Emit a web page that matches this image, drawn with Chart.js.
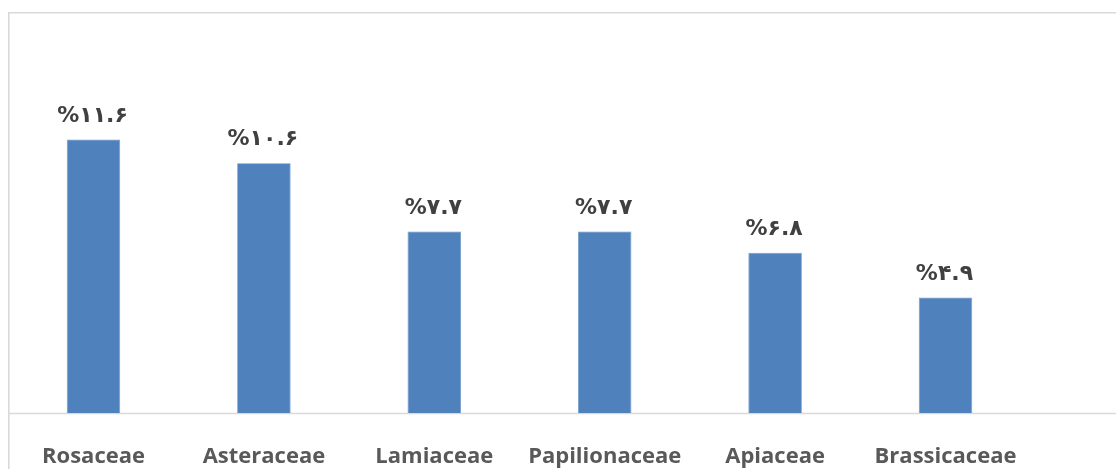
<!DOCTYPE html>
<html>
<head>
<meta charset="utf-8">
<script src="https://cdn.jsdelivr.net/npm/chart.js@4"></script>
<style>
  html, body { margin: 0; padding: 0; background: #ffffff; }
  #wrap { width: 1116px; height: 469px; position: relative; }
</style>
</head>
<body>
<div id="wrap"><canvas id="chart-families"></canvas></div>
<script>
const families = ["Rosaceae", "Asteraceae", "Lamiaceae", "Papilionaceae", "Apiaceae", "Brassicaceae"];
const shares = [11.6, 10.6, 7.7, 7.7, 6.8, 4.9];
const yMax = 14;

const faDigits = "۰۱۲۳۴۵۶۷۸۹";
function toPersian(v) {
  return "%" + String(v).replace(/[0-9]/g, d => faDigits[+d]);
}

// frame lines + baseline running out to the right edge
const framePlugin = {
  id: 'frame',
  beforeDraw(chart) {
    const ctx = chart.ctx;
    const area = chart.chartArea;
    ctx.save();
    ctx.strokeStyle = '#d9d9d9';
    ctx.lineWidth = 1.6;
    ctx.beginPath();
    ctx.moveTo(8.8, chart.height);
    ctx.lineTo(8.8, 12.8);
    ctx.lineTo(chart.width, 12.8);
    ctx.stroke();
    ctx.beginPath();
    ctx.moveTo(8.8, area.bottom + 0.5);
    ctx.lineTo(chart.width, area.bottom + 0.5);
    ctx.stroke();
    ctx.restore();
  }
};

// value labels above each bar
const valueLabels = {
  id: 'valueLabels',
  afterDatasetsDraw(chart) {
    const ctx = chart.ctx;
    const meta = chart.getDatasetMeta(0);
    ctx.save();
    ctx.font = 'bold 22px "DejaVu Sans", "Open Sans", sans-serif';
    ctx.fillStyle = '#404040';
    ctx.textAlign = 'center';
    ctx.textBaseline = 'alphabetic';
    ctx.direction = 'ltr';
    meta.data.forEach((bar, i) => {
      ctx.fillText(toPersian(shares[i]), bar.x - 1, bar.y - 18);
    });
    ctx.restore();
  }
};

new Chart(document.getElementById("chart-families"), {
  type: 'bar',
  data: {
    labels: families,
    datasets: [{
      data: shares,
      backgroundColor: '#4f81bd',
      borderColor: '#6c97c9',
      borderWidth: 0.8,
      categoryPercentage: 1,
      barPercentage: 0.314
    }]
  },
  options: {
    responsive: true,
    maintainAspectRatio: false,
    animation: false,
    layout: { padding: { left: 8.3, right: 85.3, top: 83, bottom: -23 } },
    plugins: {
      legend: { display: false },
      tooltip: { enabled: false }
    },
    scales: {
      y: {
        display: false,
        min: 0,
        max: yMax
      },
      x: {
        grid: { display: false },
        border: { display: false },
        ticks: {
          color: '#595959',
          padding: 22.3,
          maxRotation: 0,
          font: { family: 'Open Sans', size: 22, weight: 'bold' }
        }
      }
    }
  },
  plugins: [framePlugin, valueLabels]
});
</script>
</body>
</html>
